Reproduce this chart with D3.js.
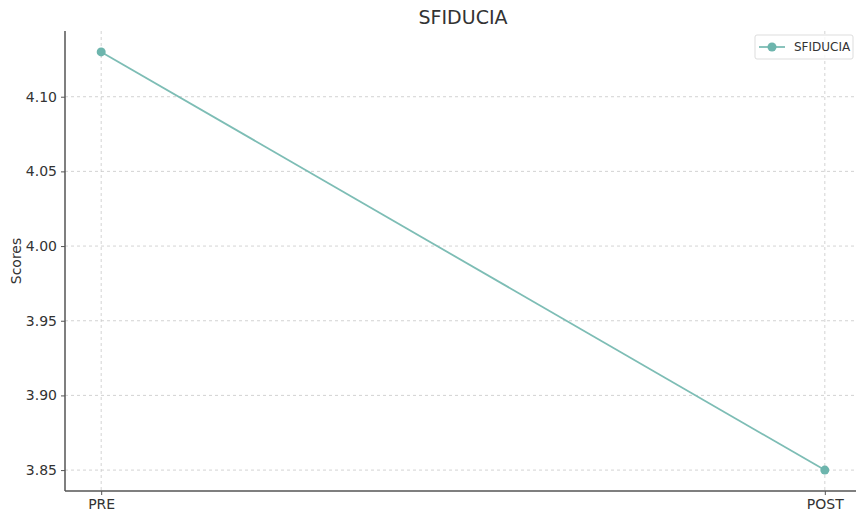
<!DOCTYPE html>
<html>
<head>
<meta charset="utf-8">
<script src="https://cdn.jsdelivr.net/npm/d3@7"></script>
<style>
  body { margin: 0; background: #fff; }
  svg { font-family: "DejaVu Sans", sans-serif; }
  .grid line { stroke: #c8c8c8; stroke-dasharray: 3,3; stroke-width: 0.8; }
  .tick text { fill: #333; }
</style>
</head>
<body>
<script>
var categories = ["PRE", "POST"];
var values = [4.13, 3.85];
var yTicks = [3.85, 3.90, 3.95, 4.00, 4.05, 4.10];
var seriesName = "SFIDUCIA";

var width = 856, height = 511;
var plotLeft = 65, plotRight = 861, plotTop = 31, plotBottom = 491;

var svg = d3.select("body").append("svg")
  .attr("width", width)
  .attr("height", height);

// matplotlib style margins: 5% each side
var x = d3.scaleLinear().domain([-0.05, 1.05]).range([plotLeft, plotRight]);
var yPad = (d3.max(values) - d3.min(values)) * 0.05;
var y = d3.scaleLinear().domain([d3.min(values) - yPad, d3.max(values) + yPad]).range([plotBottom, plotTop]);

// grid
var grid = svg.append("g").attr("class", "grid");
grid.selectAll(".gy").data(yTicks).enter().append("line")
  .attr("x1", plotLeft).attr("x2", plotRight)
  .attr("y1", function(d) { return y(d); })
  .attr("y2", function(d) { return y(d); });
grid.selectAll(".gx").data(categories).enter().append("line")
  .attr("x1", function(d, i) { return x(i); })
  .attr("x2", function(d, i) { return x(i); })
  .attr("y1", plotTop).attr("y2", plotBottom);

// axes
var yAxis = d3.axisLeft(y).tickValues(yTicks).tickFormat(d3.format(".2f")).tickSize(4).tickPadding(4);
var xAxis = d3.axisBottom(x).tickValues([0, 1]).tickFormat(function(d) { return categories[d]; }).tickSize(4).tickPadding(4);

var gy = svg.append("g").attr("transform", "translate(" + plotLeft + ",0)").call(yAxis);
gy.select(".domain").remove();
gy.selectAll(".tick line").attr("stroke", "#555");
gy.selectAll(".tick text").style("font-size", "14px");

var gx = svg.append("g").attr("transform", "translate(0," + plotBottom + ")").call(xAxis);
gx.select(".domain").remove();
gx.selectAll(".tick line").attr("stroke", "#555");
gx.selectAll(".tick text").style("font-size", "14px");
gy.attr("font-family", null); gx.attr("font-family", null);

// spines
svg.append("line").attr("x1", plotLeft).attr("x2", plotLeft).attr("y1", plotTop).attr("y2", plotBottom)
  .attr("stroke", "#555").attr("stroke-width", 1.5);
svg.append("line").attr("x1", plotLeft).attr("x2", plotRight).attr("y1", plotBottom).attr("y2", plotBottom)
  .attr("stroke", "#555").attr("stroke-width", 1.5);

// line
var line = d3.line()
  .x(function(d, i) { return x(i); })
  .y(function(d) { return y(d); });

svg.append("path")
  .datum(values)
  .attr("d", line)
  .attr("fill", "none")
  .attr("stroke", "#7dbdb5")
  .attr("stroke-width", 1.8);

svg.selectAll(".pt").data(values).enter().append("circle")
  .attr("cx", function(d, i) { return x(i); })
  .attr("cy", function(d) { return y(d); })
  .attr("r", 4.5)
  .attr("fill", "#6db5ad");

// title
svg.append("text")
  .attr("x", (plotLeft + plotRight) / 2)
  .attr("y", 24)
  .attr("text-anchor", "middle")
  .style("font-size", "19px")
  .attr("fill", "#333")
  .text(seriesName);

// y label
svg.append("text")
  .attr("transform", "translate(21," + ((plotTop + plotBottom) / 2) + ") rotate(-90)")
  .attr("text-anchor", "middle")
  .style("font-size", "14px")
  .attr("fill", "#333")
  .text("Scores");

// legend
var lg = svg.append("g").attr("transform", "translate(755,35)");
lg.append("rect").attr("width", 98).attr("height", 24).attr("rx", 2)
  .attr("fill", "#fff").attr("fill-opacity", 0.8).attr("stroke", "#ddd");
lg.append("line").attr("x1", 4).attr("x2", 30).attr("y1", 12).attr("y2", 12)
  .attr("stroke", "#7dbdb5").attr("stroke-width", 1.8);
lg.append("circle").attr("cx", 17).attr("cy", 12).attr("r", 4.5).attr("fill", "#6db5ad");
lg.append("text").attr("x", 39).attr("y", 16)
  .style("font-size", "12px").attr("fill", "#333").text(seriesName);
</script>
</body>
</html>
